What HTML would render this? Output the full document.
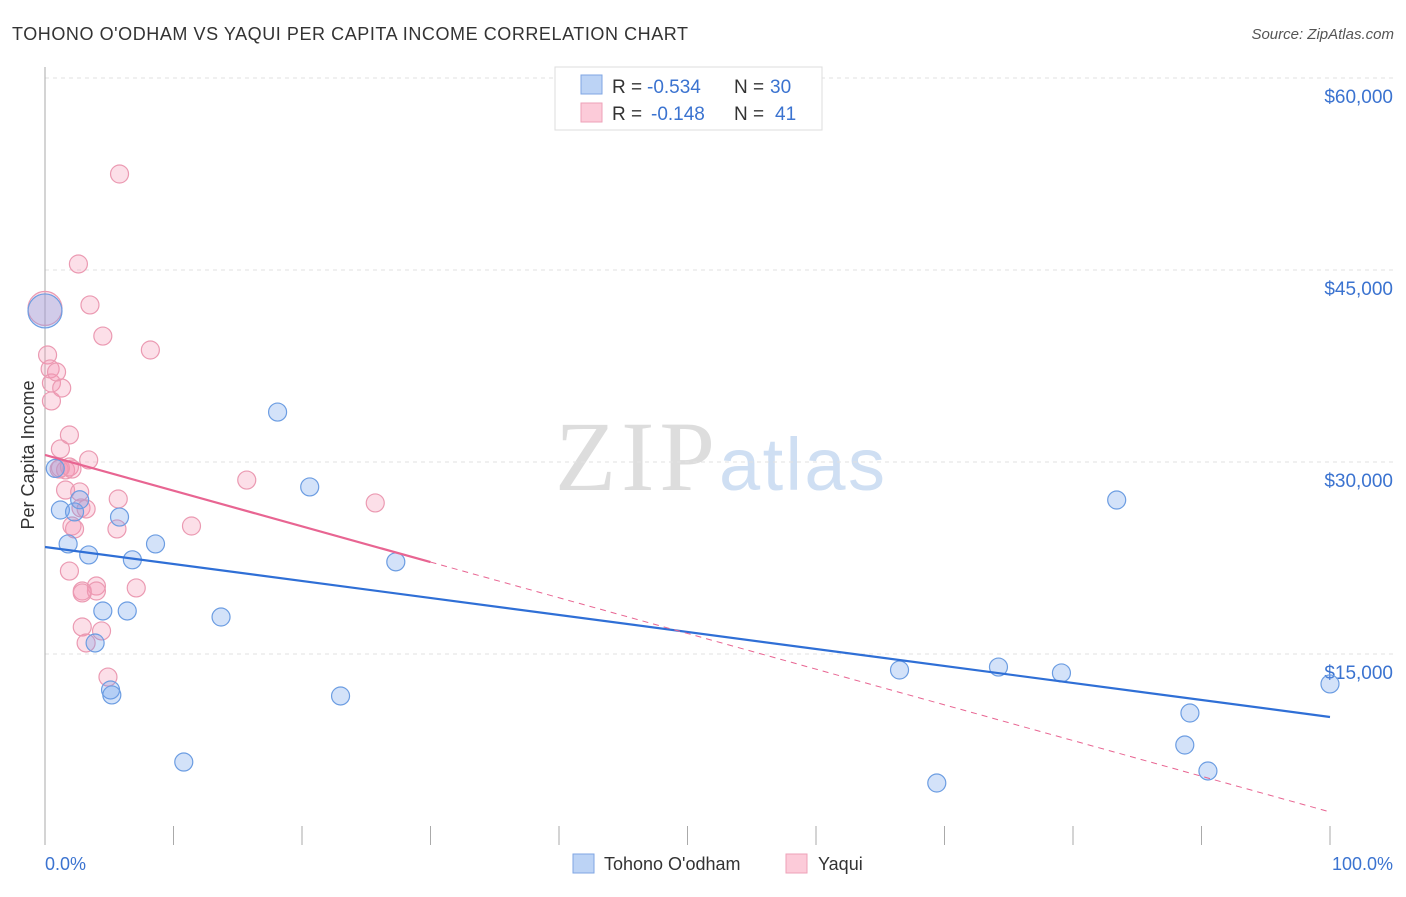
<!DOCTYPE html>
<html><head><meta charset="utf-8"><style>
body{margin:0;background:#fff;font-family:"Liberation Sans",sans-serif;}
</style></head><body>
<svg width="1406" height="892" xmlns="http://www.w3.org/2000/svg" id="chart" font-family="Liberation Sans, sans-serif">
<text x="12" y="40" font-size="18" fill="#333" textLength="676">TOHONO O'ODHAM VS YAQUI PER CAPITA INCOME CORRELATION CHART</text>
<text x="1394" y="39" font-size="15" fill="#555" font-style="italic" text-anchor="end">Source: ZipAtlas.com</text>
<text x="555" y="490" font-size="100" fill="#ddd" textLength="160" font-family="Liberation Serif, serif">ZIP</text>
<text x="719" y="490" font-size="74" fill="#cfdff3" textLength="166">atlas</text>
<g id="grid"></g><g id="axes"></g><g id="marks"></g>
<text transform="translate(34,455) rotate(-90)" font-size="18" fill="#333" text-anchor="middle">Per Capita Income</text>
<text x="45" y="870" font-size="18" fill="#3b73d0">0.0%</text>
<text x="1393" y="870" font-size="18" fill="#3b73d0" text-anchor="end">100.0%</text>
<g>
<rect x="555" y="67" width="267" height="63" fill="#fff" stroke="#ddd"/>
<rect x="581" y="75" width="21" height="19" fill="#bcd3f5" stroke="#7fa6e3"/>
<rect x="581" y="103" width="21" height="19" fill="#fccbd9" stroke="#eea1b8"/>
<text x="612" y="93" font-size="19" fill="#333">R =</text>
<text x="647" y="93" font-size="19" fill="#3b73d0">-0.534</text>
<text x="734" y="93" font-size="19" fill="#333">N =</text>
<text x="770" y="93" font-size="19" fill="#3b73d0">30</text>
<text x="612" y="120" font-size="19" fill="#333">R =</text>
<text x="651" y="120" font-size="19" fill="#3b73d0">-0.148</text>
<text x="734" y="120" font-size="19" fill="#333">N =</text>
<text x="775" y="120" font-size="19" fill="#3b73d0">41</text>
</g>
<g>
<rect x="573" y="854" width="21" height="19" fill="#bcd3f5" stroke="#7fa6e3"/>
<text x="604" y="870" font-size="18" fill="#333">Tohono O'odham</text>
<rect x="786" y="854" width="21" height="19" fill="#fccbd9" stroke="#eea1b8"/>
<text x="818" y="870" font-size="18" fill="#333">Yaqui</text>
</g>
</svg>
<script>
const yTicks=[15000,30000,45000,60000];
const yTickLabels=["$15,000","$30,000","$45,000","$60,000"];
const blueX=[0,0.8,1.2,1.8,2.3,2.7,3.4,3.9,4.5,5.1,5.2,5.8,6.4,6.8,8.6,10.8,13.7,18.1,20.6,23.0,27.3,66.5,69.4,74.2,79.1,83.4,89.1,88.7,90.5,100];
const blueY=[41800,29500,26250,23600,26100,27050,22740,15860,18360,12190,11800,25700,18360,22360,23600,6560,17890,33900,28050,11720,22200,13750,4920,13980,13520,27030,10390,7890,5860,12660];
const pinkX=[0,0.2,0.4,0.5,0.9,0.5,1.3,1.2,1.9,1.1,1.6,1.9,2.1,1.6,2.7,2.8,2.1,3.4,2.3,3.2,1.9,2.9,2.9,3.2,4.0,4.0,4.4,4.9,5.6,5.7,5.8,2.6,3.5,4.5,8.2,7.1,11.4,15.7,25.7,2.9,1.2];
const pinkY=[42000,38360,37270,36170,37030,34770,35780,31020,32110,29450,29380,29610,29450,27810,27660,26410,25000,30160,24770,26330,21480,19920,17110,15860,20310,19920,16800,13200,24770,27110,52500,45470,42270,39840,38750,20160,25000,28590,26800,19770,29530];
const blueLine=[23360,10080];
const pinkLine=[30550,2660];
const X0=45,X1=1330,Y0=846,PX=192/15000;
const sx=v=>X0+(X1-X0)*v/100, sy=v=>Y0-v*PX;
const NS="http://www.w3.org/2000/svg";
function mk(tag,attrs,parent){const e=document.createElementNS(NS,tag);for(const k in attrs)e.setAttribute(k,attrs[k]);document.getElementById(parent).appendChild(e);return e;}
yTicks.forEach((t,i)=>{
 const l=mk('line',{x1:X0,x2:1394,y1:sy(t),y2:sy(t),stroke:'#e2e2e2','stroke-dasharray':'4,4'},'grid');
 
 
 const tx=mk('text',{x:1393,y:sy(t)+25,'font-size':19,fill:'#3b73d0','text-anchor':'end'},'grid');
 tx.textContent=yTickLabels[i];
 
 
});
const ya=mk('line',{x1:X0,x2:X0,y1:67,y2:845,stroke:'#aaa'},'axes');


for(let i=0;i<=10;i++){const t=mk('line',{x1:sx(i*10),x2:sx(i*10),y1:826,y2:845,stroke:'#aaa'},'axes');
 
 }
function dots(xs,ys,fill,stroke,name){xs.forEach((x,i)=>{const c=mk('circle',{cx:sx(x),cy:sy(ys[i]),r:i===0?17:9,fill:fill,stroke:stroke,'stroke-width':1.2},'marks');
 
 });}
dots(pinkX,pinkY,'rgba(244,150,180,0.3)','#eb9ab2','yaqui-point');
dots(blueX,blueY,'rgba(110,160,235,0.3)','#6c9de2','tohono-point');
const bl=mk('line',{x1:sx(0),y1:sy(blueLine[0]),x2:sx(100),y2:sy(blueLine[1]),stroke:'#2f6fd6','stroke-width':2.2},'marks');


const pa=v=>pinkLine[0]+(pinkLine[1]-pinkLine[0])*v/100;
const pl=mk('line',{x1:sx(0),y1:sy(pa(0)),x2:sx(30),y2:sy(pa(30)),stroke:'#e86592','stroke-width':2.2},'marks');


const pd=mk('line',{x1:sx(30),y1:sy(pa(30)),x2:sx(100),y2:sy(pa(100)),stroke:'#e86592','stroke-width':1,'stroke-dasharray':'6,5'},'marks');


</script>
</body></html>
